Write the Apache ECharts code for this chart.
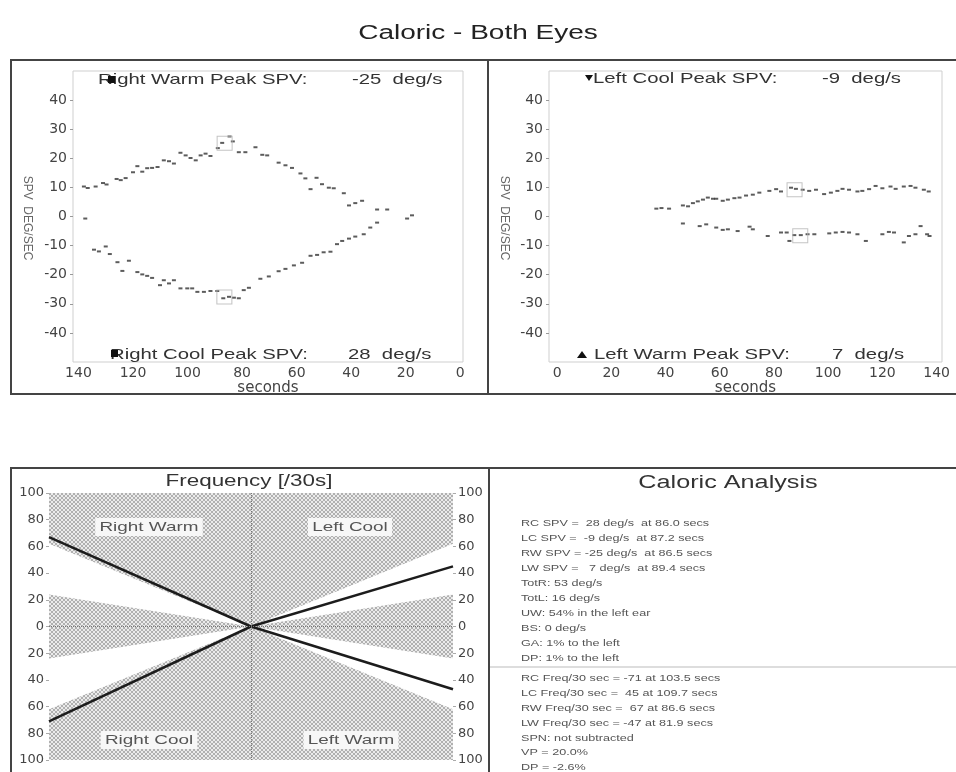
<!DOCTYPE html>
<html>
<head>
<meta charset="utf-8">
<title>Caloric - Both Eyes</title>
<script src="https://cdn.jsdelivr.net/npm/echarts@6.0.0/dist/echarts.min.js"></script>
<style>
  html, body { margin: 0; padding: 0; background: #fff; }
  #main { width: 956px; height: 772px; }
</style>
</head>
<body>
<div id="main"></div>
<script>
// [seconds, SPV deg/s]
const rightUpperSpv = [[137.5,-0.7],[138,10.3],[136.6,9.8],[133.7,10.3],[131,11.5],[129.7,11],[126,12.9],[124.5,12.5],[122.7,13.2],[120,15.2],[118.4,17.3],[116.6,15.4],[114.8,16.6],[113,16.7],[111,17],[108.7,19.3],[106.8,19],[105,18.2],[102.6,21.9],[100.7,21],[98.9,20.1],[97,19.3],[95.2,21],[93.4,21.6],[91.6,20.8],[88.9,23.5],[87.3,25.3],[84.6,27.5],[83.4,25.8],[81.2,22.1],[78.8,22.1],[75.1,23.8],[72.6,21.2],[70.8,21],[66.6,18.5],[64.1,17.6],[61.7,16.7],[58.6,14.8],[56.8,13.1],[54.9,9.4],[52.7,13.3],[50.7,11.1],[48.2,9.9],[46.4,9.7],[42.7,8],[40.8,3.8],[38.5,4.6],[36,5.4],[30.5,2.4],[26.8,2.4],[19.5,-0.7],[17.7,0.4]];
const rightLowerSpv = [[134.3,-11.4],[132.5,-12],[130,-10.3],[128.5,-12.9],[125.7,-15.7],[123.9,-18.7],[121.5,-15.2],[118.4,-19.1],[116.6,-19.9],[114.8,-20.4],[113,-21.1],[110.1,-23.6],[108.7,-21.9],[106.8,-23],[105,-21.9],[102.6,-24.7],[100.1,-24.7],[98.3,-24.7],[96.4,-25.9],[94,-25.9],[91.6,-25.6],[89.1,-25.6],[86.9,-28.1],[84.8,-27.6],[83,-27.9],[81.2,-28.1],[79.4,-25.3],[77.5,-24.5],[73.3,-21.4],[70.2,-20.6],[66.6,-18.8],[64.1,-18],[61,-16.8],[58,-15.9],[54.9,-13.5],[52.5,-13.2],[50.1,-12.3],[47.6,-12.1],[45.2,-9.5],[43.3,-8.4],[40.8,-7.6],[38.5,-6.9],[35.4,-6.1],[33,-3.8],[30.5,-2.1]];
const leftUpperSpv = [[36.6,2.7],[38.5,2.9],[41.3,2.7],[46.4,3.8],[48.3,3.5],[50.1,4.6],[51.9,5.2],[53.8,5.8],[55.6,6.5],[57.5,6.1],[58.7,6.1],[61.1,5.4],[63,5.8],[65.4,6.3],[67.3,6.5],[69.7,7.2],[72.2,7.5],[74.6,8.2],[78.3,8.8],[80.8,9.4],[82.6,8.6],[86.3,9.9],[88.1,9.5],[90.6,9.2],[93,8.8],[95.5,9.2],[98.5,7.7],[101,8.2],[103.4,8.8],[105.3,9.5],[107.7,9.2],[110.8,8.6],[112.6,8.8],[115.1,9.4],[117.5,10.5],[120,9.7],[123,10.3],[124.9,9.5],[127.9,10.3],[130.4,10.5],[132.2,9.9],[135.3,9.2],[137.1,8.6]];
const leftLowerSpv = [[46.4,-2.4],[52.6,-3.3],[55,-2.7],[58.7,-3.8],[61.1,-4.6],[63,-4.4],[66.6,-5],[71,-3.5],[72.2,-4.4],[77.7,-6.7],[82.6,-5.5],[84.7,-5.5],[85.7,-8.4],[87.5,-6.4],[89.9,-6.4],[92.4,-6.1],[94.9,-6.1],[100.4,-5.8],[102.8,-5.5],[105.3,-5.3],[107.7,-5.5],[110.8,-6.1],[113.9,-8.4],[120,-6.1],[122.4,-5.3],[124.3,-5.5],[127.9,-8.9],[129.8,-6.7],[132.2,-6.1],[134.1,-3.3],[136.5,-6.1],[137.4,-6.7]];
const rightPeaks = [[86.4,25.2],[86.5,-27.7]];
const leftPeaks = [[87.6,9.2],[89.7,-6.6]];

const secondsTicks = [0, 20, 40, 60, 80, 100, 120, 140];
const spvTicks = [-40, -30, -20, -10, 0, 10, 20, 30, 40];

// frequency per 30 s: RW / RC on the right-ear half, LC / LW on the left-ear half
const freqRightEar = [67, -71];
const freqLeftEar = [45, -47];
const normalOuter = 62;
const normalInner = 24;

const analysisTop = [
  'RC SPV =  28 deg/s  at 86.0 secs',
  'LC SPV =  -9 deg/s  at 87.2 secs',
  'RW SPV = -25 deg/s  at 86.5 secs',
  'LW SPV =   7 deg/s  at 89.4 secs',
  'TotR: 53 deg/s',
  'TotL: 16 deg/s',
  'UW: 54% in the left ear',
  'BS: 0 deg/s',
  'GA: 1% to the left',
  'DP: 1% to the left'
];
const analysisBottom = [
  'RC Freq/30 sec = -71 at 103.5 secs',
  'LC Freq/30 sec =  45 at 109.7 secs',
  'RW Freq/30 sec =  67 at 86.6 secs',
  'LW Freq/30 sec = -47 at 81.9 secs',
  'SPN: not subtracted',
  'VP = 20.0%',
  'DP = -2.6%'
];

// crosshatch fill for the normal zones
function makeHatch() {
  const c = document.createElement('canvas');
  c.width = 4; c.height = 4;
  const ctx = c.getContext('2d');
  ctx.fillStyle = '#ebebeb';
  ctx.fillRect(0, 0, 4, 4);
  ctx.fillStyle = '#b0b0b0';
  for (let i = 0; i < 4; i++) {
    ctx.fillRect(i, i, 1, 1);
    ctx.fillRect(i, 3 - i, 1, 1);
  }
  return c;
}
const hatch = { image: makeHatch(), repeat: 'repeat' };

const SX = 1.4;
const FONT = '"Liberation Sans", Arial, sans-serif';
const AXFONT = 'DejaVu Sans';

function txt(x, y, text, size, o) {
  o = o || {};
  return {
    type: 'text', x: x, y: y, z: 20,
    scaleX: o.sx === undefined ? SX : o.sx,
    rotation: o.rot || 0,
    style: {
      text: text, fill: o.color || '#333', font: size + 'px ' + FONT,
      align: o.align || 'left', verticalAlign: 'middle',
      textAlign: o.align || 'left', textVerticalAlign: 'middle',
      backgroundColor: o.bg, padding: o.pad
    }
  };
}

const myChart = echarts.init(document.getElementById('main'));

const dots = (data, i) => ({
  type: 'scatter', xAxisIndex: i, yAxisIndex: i, data: data,
  symbol: 'rect', symbolSize: [4, 2], itemStyle: { color: '#333' }, silent: true
});
const boxes = (data, i) => ({
  type: 'scatter', xAxisIndex: i, yAxisIndex: i, data: data,
  symbol: 'rect', symbolSize: [15, 14], silent: true,
  itemStyle: { color: 'rgba(0,0,0,0)', borderColor: '#b5b5b5', borderWidth: 1 }
});
const zone = (edge, origin) => ({
  type: 'line', xAxisIndex: 2, yAxisIndex: 2, data: [[-1, edge], [0, 0], [1, edge]],
  symbol: 'none', silent: true, lineStyle: { width: 0 },
  areaStyle: { color: hatch, origin: origin, opacity: 1 }
});
const freqLine = (data) => ({
  type: 'line', xAxisIndex: 2, yAxisIndex: 2, data: data, symbol: 'none', silent: true,
  lineStyle: { color: '#1c1c1c', width: 2.5 }
});

const spvAxis = (gi) => ({
  type: 'value', gridIndex: gi, min: -50, max: 50,
  axisLine: { show: false, onZero: false }, splitLine: { show: false },
  axisTick: { show: true, customValues: spvTicks, length: 3, lineStyle: { color: '#999' } },
  axisLabel: { customValues: spvTicks, margin: 6, fontFamily: AXFONT, fontSize: 14, color: '#444' }
});
const secAxis = (gi, min, inverse) => ({
  type: 'value', gridIndex: gi, min: min, max: 142, inverse: inverse,
  axisLine: { show: false, onZero: false }, splitLine: { show: false }, axisTick: { show: false },
  axisLabel: { customValues: secondsTicks, margin: 4, fontFamily: AXFONT, fontSize: 14, color: '#444' },
  name: 'seconds', nameLocation: 'middle', nameGap: 17,
  nameTextStyle: { fontFamily: AXFONT, fontSize: 15, color: '#444' }
});
const freqAxis = (pos) => ({
  type: 'value', gridIndex: 2, min: -100, max: 100, interval: 20, position: pos,
  axisLine: { show: false, onZero: false }, splitLine: { show: false },
  axisTick: { show: true, length: 3, lineStyle: { color: '#aaa' } },
  axisLabel: { margin: 5, fontFamily: AXFONT, fontSize: 13, color: '#444', formatter: v => Math.abs(v) }
});

const graphics = [
  txt(478, 33, 'Caloric - Both Eyes', 20, { align: 'center', color: '#222' }),
  // panel frames
  { type: 'rect', z: 20, shape: { x: 11, y: 60, width: 960, height: 334 }, style: { fill: 'none', stroke: '#444', lineWidth: 2 } },
  { type: 'line', z: 20, shape: { x1: 488, y1: 60, x2: 488, y2: 394 }, style: { stroke: '#444', lineWidth: 2 } },
  { type: 'rect', z: 20, shape: { x: 11, y: 468, width: 960, height: 320 }, style: { fill: 'none', stroke: '#444', lineWidth: 2 } },
  { type: 'line', z: 20, shape: { x1: 489, y1: 468, x2: 489, y2: 772 }, style: { stroke: '#444', lineWidth: 2 } },
  // peak annotations
  txt(98, 80, 'Right Warm Peak SPV:', 14.5),
  txt(352, 80, '-25  deg/s', 14.5),
  { type: 'rect', z: 21, shape: { x: 108, y: 76, width: 7, height: 7 }, style: { fill: '#111' } },
  txt(110, 355, 'Right Cool Peak SPV:', 14.5),
  txt(348, 355, '28  deg/s', 14.5),
  { type: 'rect', z: 21, shape: { x: 111, y: 350, width: 7, height: 7 }, style: { fill: '#111' } },
  { type: 'polygon', z: 21, shape: { points: [[585, 75], [593, 75], [589, 81]] }, style: { fill: '#111' } },
  txt(593, 79, 'Left Cool Peak SPV:', 14.5),
  txt(822, 79, '-9  deg/s', 14.5),
  { type: 'polygon', z: 21, shape: { points: [[577, 358], [587, 358], [582, 351]] }, style: { fill: '#111' } },
  txt(594, 355, 'Left Warm Peak SPV:', 14.5),
  txt(832, 355, '7  deg/s', 14.5),
  txt(27, 218, 'SPV  DEG/SEC', 12, { sx: 1, rot: -Math.PI / 2, align: 'center', color: '#666' }),
  txt(504, 218, 'SPV  DEG/SEC', 12, { sx: 1, rot: -Math.PI / 2, align: 'center', color: '#666' }),
  // frequency panel
  txt(249, 482, 'Frequency [/30s]', 16, { align: 'center', color: '#333' }),
  txt(149, 527, 'Right Warm', 13.5, { align: 'center', color: '#555', bg: '#f7f7f7', pad: [2, 3] }),
  txt(350, 527, 'Left Cool', 13.5, { align: 'center', color: '#555', bg: '#f7f7f7', pad: [2, 3] }),
  txt(149, 740, 'Right Cool', 13.5, { align: 'center', color: '#555', bg: '#f7f7f7', pad: [2, 3] }),
  txt(351, 740, 'Left Warm', 13.5, { align: 'center', color: '#555', bg: '#f7f7f7', pad: [2, 3] }),
  // analysis panel
  txt(728, 483, 'Caloric Analysis', 18, { align: 'center', color: '#333' }),
  { type: 'line', z: 20, shape: { x1: 490, y1: 667, x2: 956, y2: 667 }, style: { stroke: '#bbb', lineWidth: 1 } }
];
analysisTop.forEach((s, i) => graphics.push(txt(521, 524 + i * 14.9, s, 9, { color: '#555' })));
analysisBottom.forEach((s, i) => graphics.push(txt(521, 679 + i * 14.8, s, 9, { color: '#555' })));

myChart.setOption({
  animation: false,
  grid: [
    { left: 73, top: 71, width: 390, height: 291, show: true, borderColor: '#cfcfcf', borderWidth: 1 },
    { left: 549, top: 71, width: 393, height: 291, show: true, borderColor: '#cfcfcf', borderWidth: 1 },
    { left: 49, top: 493, width: 404, height: 267 }
  ],
  xAxis: [
    secAxis(0, -1, true),
    secAxis(1, -3, false),
    { type: 'value', gridIndex: 2, min: -1, max: 1, show: false }
  ],
  yAxis: [spvAxis(0), spvAxis(1), freqAxis('left'), freqAxis('right')],
  series: [
    dots(rightUpperSpv, 0),
    dots(rightLowerSpv, 0),
    boxes(rightPeaks, 0),
    dots(leftUpperSpv, 1),
    dots(leftLowerSpv, 1),
    boxes(leftPeaks, 1),
    zone(normalOuter, 'end'),
    zone(-normalOuter, 'start'),
    zone(normalInner, 0),
    zone(-normalInner, 0),
    Object.assign(freqLine([[-1, freqRightEar[0]], [0, 0]]), {
      markLine: {
        silent: true, symbol: 'none', label: { show: false },
        lineStyle: { color: '#777', width: 1, type: 'dotted' },
        data: [{ xAxis: 0 }, { yAxis: 0 }]
      }
    }),
    freqLine([[-1, freqRightEar[1]], [0, 0]]),
    freqLine([[0, 0], [1, freqLeftEar[0]]]),
    freqLine([[0, 0], [1, freqLeftEar[1]]])
  ],
  graphic: { elements: graphics }
});
</script>
</body>
</html>
